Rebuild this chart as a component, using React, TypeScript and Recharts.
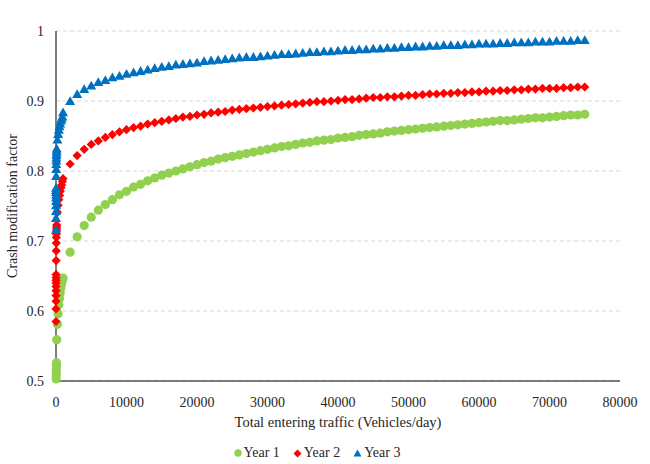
import React from 'react';
import { ScatterChart, Scatter, XAxis, YAxis, CartesianGrid, Legend, Label } from 'recharts';

const traffic = [
  1, 2, 3, 4, 5, 6, 7, 8, 9, 10,
  20, 30, 40, 50, 60, 70, 80, 90,
  100, 200, 300, 400, 500, 600, 700, 800, 900,
  1000, 2000, 3000, 4000, 5000, 6000, 7000, 8000, 9000, 10000,
  11000, 12000, 13000, 14000, 15000, 16000, 17000, 18000, 19000, 20000,
  21000, 22000, 23000, 24000, 25000, 26000, 27000, 28000, 29000, 30000,
  31000, 32000, 33000, 34000, 35000, 36000, 37000, 38000, 39000, 40000,
  41000, 42000, 43000, 44000, 45000, 46000, 47000, 48000, 49000, 50000,
  51000, 52000, 53000, 54000, 55000, 56000, 57000, 58000, 59000, 60000,
  61000, 62000, 63000, 64000, 65000, 66000, 67000, 68000, 69000, 70000,
  71000, 72000, 73000, 74000, 75000,
];

const year1 = [
  null, null, null, null, null, null, null, null, null, null,
  0.503, 0.508, 0.513, 0.518, 0.522, 0.526, null, null,
  0.559, 0.581, 0.596, 0.609, 0.618, 0.626, 0.633, 0.639, 0.644,
  0.647, 0.684, 0.706, 0.722, 0.734, 0.744, 0.752, 0.759, 0.766, 0.771,
  0.777, 0.781, 0.786, 0.790, 0.794, 0.797, 0.800, 0.803, 0.806, 0.809,
  0.812, 0.814, 0.817, 0.819, 0.821, 0.823, 0.825, 0.827, 0.829, 0.831,
  0.833, 0.835, 0.836, 0.838, 0.840, 0.841, 0.843, 0.844, 0.845, 0.847,
  0.848, 0.849, 0.851, 0.852, 0.853, 0.854, 0.856, 0.857, 0.858, 0.859,
  0.860, 0.861, 0.862, 0.863, 0.864, 0.865, 0.866, 0.867, 0.868, 0.869,
  0.870, 0.871, 0.872, 0.872, 0.873, 0.874, 0.875, 0.876, 0.876, 0.877,
  0.878, 0.879, 0.880, 0.880, 0.881,
];

const year2 = [
  0.585, 0.603, 0.614, 0.622, 0.629, 0.635, 0.640, 0.644, 0.648, 0.652,
  0.672, 0.686, 0.697, 0.705, 0.710, 0.714, 0.717, 0.720,
  0.723, 0.741, 0.751, 0.759, 0.765, 0.771, 0.776, 0.780, 0.785,
  0.789, 0.810, 0.822, 0.831, 0.838, 0.843, 0.848, 0.852, 0.856, 0.859,
  0.862, 0.864, 0.867, 0.869, 0.871, 0.873, 0.875, 0.877, 0.878, 0.880,
  0.881, 0.883, 0.884, 0.885, 0.887, 0.888, 0.889, 0.890, 0.891, 0.892,
  0.893, 0.894, 0.895, 0.896, 0.897, 0.898, 0.899, 0.899, 0.900, 0.901,
  0.902, 0.902, 0.903, 0.904, 0.905, 0.905, 0.906, 0.906, 0.907, 0.908,
  0.908, 0.909, 0.910, 0.910, 0.911, 0.911, 0.912, 0.912, 0.913, 0.913,
  0.914, 0.914, 0.915, 0.915, 0.916, 0.916, 0.917, 0.917, 0.918, 0.918,
  0.918, 0.919, 0.919, 0.920, 0.920,
];

const year3 = [
  0.716, 0.733, 0.743, 0.751, 0.757, 0.762, 0.766, 0.770, 0.773, 0.776,
  0.793, 0.803, 0.810, 0.815, 0.819, 0.823, 0.826, 0.829,
  0.832, 0.845, 0.853, 0.859, 0.864, 0.868, 0.872, 0.875, 0.878,
  0.884, 0.900, 0.910, 0.917, 0.922, 0.927, 0.930, 0.934, 0.936, 0.939,
  0.941, 0.943, 0.945, 0.947, 0.949, 0.950, 0.952, 0.953, 0.954, 0.955,
  0.957, 0.958, 0.959, 0.960, 0.961, 0.962, 0.963, 0.963, 0.964, 0.965,
  0.966, 0.967, 0.967, 0.968, 0.969, 0.970, 0.970, 0.971, 0.971, 0.972,
  0.973, 0.973, 0.974, 0.974, 0.975, 0.975, 0.976, 0.976, 0.977, 0.977,
  0.978, 0.978, 0.979, 0.979, 0.980, 0.980, 0.980, 0.981, 0.981, 0.982,
  0.982, 0.982, 0.983, 0.983, 0.984, 0.984, 0.984, 0.985, 0.985, 0.985,
  0.986, 0.986, 0.986, 0.987, 0.987,
];

const xTicks = [0, 10000, 20000, 30000, 40000, 50000, 60000, 70000, 80000];
const yTicks = [0.5, 0.6, 0.7, 0.8, 0.9, 1];
const seriesNames = ['Year 1', 'Year 2', 'Year 3'];

const GREEN = '#92D050';
const RED = '#FF0000';
const BLUE = '#0070C0';
const FONT = '"Liberation Serif", "Times New Roman", serif';
const TEXT = '#262626';

const toPoints = (vals: (number | null)[]) =>
  traffic
    .map((x, i) => ({ x, y: vals[i] }))
    .filter((p) => p.y !== null && p.y !== undefined);

const CircleShape = (props: any) => (
  <circle cx={props.cx} cy={props.cy} r={4.6} fill={GREEN} />
);

const DiamondShape = (props: any) => {
  const { cx, cy } = props;
  const s = 4.6;
  return (
    <polygon
      points={`${cx},${cy - s} ${cx + s},${cy} ${cx},${cy + s} ${cx - s},${cy}`}
      fill={RED}
    />
  );
};

const TriangleShape = (props: any) => {
  const { cx, cy } = props;
  return (
    <polygon
      points={`${cx},${cy - 4.8} ${cx + 5},${cy + 4} ${cx - 5},${cy + 4}`}
      fill={BLUE}
    />
  );
};

const LegendContent = () => (
  <div
    style={{
      display: 'flex',
      justifyContent: 'center',
      alignItems: 'center',
      fontFamily: FONT,
      fontSize: 14,
      color: TEXT,
      gap: 13,
    }}
  >
    <span style={{ display: 'flex', alignItems: 'center' }}>
      <svg width={8} height={8} style={{ marginRight: 2 }}>
        <circle cx={4} cy={4} r={3.7} fill={GREEN} />
      </svg>
      {seriesNames[0]}
    </span>
    <span style={{ display: 'flex', alignItems: 'center' }}>
      <svg width={9} height={9} style={{ marginRight: 2 }}>
        <polygon points="4.5,0.5 8.5,4.5 4.5,8.5 0.5,4.5" fill={RED} />
      </svg>
      {seriesNames[1]}
    </span>
    <span style={{ display: 'flex', alignItems: 'center' }}>
      <svg width={9} height={8} style={{ marginRight: 2 }}>
        <polygon points="4.5,0.5 8.5,7.5 0.5,7.5" fill={BLUE} />
      </svg>
      {seriesNames[2]}
    </span>
  </div>
);

export default function App() {
  return (
    <div style={{ position: 'absolute', left: 0, top: 0, width: 650, height: 464, background: '#fff' }}>
      <ScatterChart
        width={650}
        height={464}
        margin={{ top: 31, right: 30, left: 0, bottom: 33 }}
      >
        <CartesianGrid vertical={false} stroke="#D9D9D9" strokeDasharray="4 3" />
        <XAxis
          type="number"
          dataKey="x"
          domain={[0, 80000]}
          ticks={xTicks}
          interval={0}
          tickLine={false}
          tickSize={6}
          tickMargin={10}
          axisLine={{ stroke: '#000', strokeWidth: 1 }}
          tick={{ fontFamily: FONT, fontSize: 14, fill: TEXT }}
          height={50}
        >
          <Label
            value="Total entering traffic (Vehicles/day)"
            position="insideBottom"
            offset={4}
            style={{ fontFamily: FONT, fontSize: 14.5, fill: TEXT }}
          />
        </XAxis>
        <YAxis
          type="number"
          dataKey="y"
          domain={[0.5, 1]}
          ticks={yTicks}
          interval={0}
          tickLine={false}
          tickSize={6}
          tickMargin={6}
          axisLine={{ stroke: '#000', strokeWidth: 1 }}
          tick={{ fontFamily: FONT, fontSize: 14, fill: TEXT }}
          width={56}
        >
          <Label
            value="Crash modification factor"
            angle={-90}
            position="insideLeft"
            offset={12}
            style={{ textAnchor: 'middle', fontFamily: FONT, fontSize: 14, fill: TEXT }}
          />
        </YAxis>
        <Legend
          layout="horizontal"
          verticalAlign="middle"
          align="center"
          content={LegendContent}
          wrapperStyle={{ position: 'absolute', top: 445, left: 0, width: 634 }}
        />
        <Scatter name={seriesNames[0]} data={toPoints(year1)} shape={CircleShape} isAnimationActive={false} />
        <Scatter name={seriesNames[1]} data={toPoints(year2)} shape={DiamondShape} isAnimationActive={false} />
        <Scatter name={seriesNames[2]} data={toPoints(year3)} shape={TriangleShape} isAnimationActive={false} />
      </ScatterChart>
    </div>
  );
}
